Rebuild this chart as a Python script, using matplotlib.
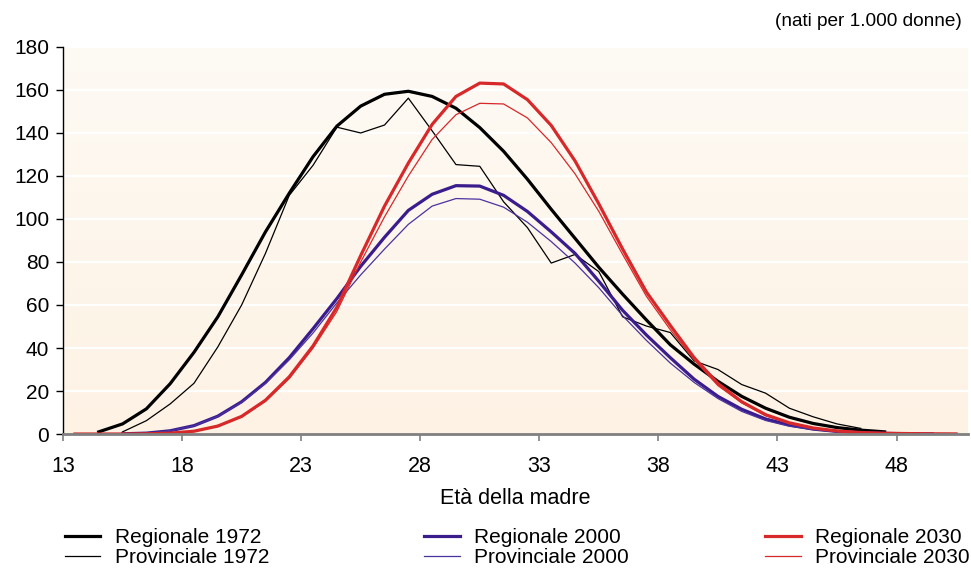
import numpy as np
import matplotlib
matplotlib.use("Agg")
import matplotlib.pyplot as plt
from matplotlib.colors import LinearSegmentedColormap

plt.rcParams['font.family'] = ['Liberation Sans', 'DejaVu Sans']

nan = np.nan

# eta della madre (centro della classe annuale)
eta = [13.5, 14.5, 15.5, 16.5, 17.5, 18.5, 19.5, 20.5, 21.5, 22.5,
       23.5, 24.5, 25.5, 26.5, 27.5, 28.5, 29.5, 30.5, 31.5, 32.5,
       33.5, 34.5, 35.5, 36.5, 37.5, 38.5, 39.5, 40.5, 41.5, 42.5,
       43.5, 44.5, 45.5, 46.5, 47.5, 48.5, 49.5, 50.5]

reg_1972 = [nan, 1.0, 4.7, 11.7, 23.4, 38.0, 54.5, 74.0, 94.0, 112.0,
            129.0, 143.2, 152.5, 158.0, 159.4, 157.0, 151.5, 142.5, 131.5, 118.5,
            104.5, 91.0, 77.5, 65.0, 53.0, 41.5, 32.5, 24.5, 17.5, 12.0,
            7.8, 4.9, 3.0, 1.8, 1.0, nan, nan, nan]

prov_1972 = [nan, nan, 1.0, 6.2, 14.0, 23.6, 40.5, 60.0, 84.0, 111.0,
             125.0, 142.7, 140.0, 143.7, 156.2, 141.0, 125.3, 124.5, 108.0, 96.0,
             79.5, 83.5, 75.5, 54.5, 50.2, 47.2, 34.0, 30.0, 23.0, 19.0,
             12.0, 8.0, 4.7, 2.6, nan, nan, nan, nan]

reg_2000 = [nan, nan, 0.1, 0.4, 1.5, 3.9, 8.3, 15.0, 24.0, 35.5,
            49.0, 63.0, 78.0, 91.5, 104.0, 111.5, 115.5, 115.3, 111.0, 103.5,
            94.0, 84.0, 71.0, 57.5, 46.0, 35.5, 25.5, 17.5, 11.5, 7.0,
            4.2, 2.3, 1.2, 0.6, 0.3, 0.1, 0.05, nan]

prov_2000 = [nan, nan, 0.1, 0.4, 1.5, 3.8, 8.2, 14.7, 23.5, 34.5,
             47.0, 61.0, 74.0, 86.0, 97.5, 106.0, 109.5, 109.2, 105.5, 98.5,
             89.5, 79.5, 68.0, 55.0, 43.5, 33.0, 24.0, 16.5, 10.5, 6.3,
             3.6, 2.0, 1.0, 0.4, 0.2, 0.1, nan, nan]

reg_2030 = [0.0, 0.0, 0.0, 0.1, 0.4, 1.3, 3.7, 8.2, 15.7, 26.6,
            41.0, 59.0, 83.0, 106.0, 126.0, 144.0, 157.0, 163.2, 162.8, 155.5,
            143.5, 127.0, 107.0, 86.0, 66.0, 50.5, 35.5, 23.5, 15.0, 9.0,
            5.2, 2.8, 1.4, 0.7, 0.35, 0.2, 0.1, 0.05]

prov_2030 = [0.0, 0.0, 0.0, 0.1, 0.4, 1.2, 3.5, 7.9, 15.2, 25.8,
             40.0, 57.0, 80.0, 101.0, 120.0, 137.0, 148.5, 153.8, 153.5, 147.0,
             135.5, 121.0, 103.5, 83.5, 64.0, 48.5, 34.5, 22.5, 14.5, 8.5,
             4.8, 2.5, 1.2, 0.6, 0.3, 0.15, 0.1, 0.05]

x_ticks = [13, 18, 23, 28, 33, 38, 43, 48]
y_ticks = [0, 20, 40, 60, 80, 100, 120, 140, 160, 180]

nero = '#000000'
viola = '#3b1c8c'
viola_chiaro = '#4a32a0'
rosso = '#d7282a'

fig = plt.figure(figsize=(9.71, 5.68), dpi=100)
ax = fig.add_axes([0.0649, 0.2359, 0.9320, 0.6814])

# sfondo sfumato dell'area del grafico
cmap = LinearSegmentedColormap.from_list('sfondo', ['#fdf2e4', '#fefaf4'])
grad = np.linspace(0, 1, 256).reshape(-1, 1)
ax.imshow(grad, cmap=cmap, origin='lower', aspect='auto',
          extent=[13, 51, 0, 180], zorder=0)

for y in y_ticks[1:]:
    ax.axhline(y, color='white', lw=1.6, zorder=1)

serie = [
    (reg_1972, nero, 2.3, 'Regionale 1972'),
    (prov_1972, nero, 0.9, 'Provinciale 1972'),
    (reg_2000, viola, 2.3, 'Regionale 2000'),
    (prov_2000, viola_chiaro, 0.9, 'Provinciale 2000'),
    (reg_2030, rosso, 2.3, 'Regionale 2030'),
    (prov_2030, rosso, 0.9, 'Provinciale 2030'),
]
linee = []
for valori, colore, spessore, nome in serie:
    l, = ax.plot(eta, valori, color=colore, lw=spessore, zorder=3, label=nome)
    linee.append(l)

ax.set_xlim(13, 51)
ax.set_ylim(0, 180)
ax.set_xticks(x_ticks)
ax.set_yticks(y_ticks)
ax.tick_params(axis='y', direction='out', length=5, width=1, pad=5, labelsize=15)
ax.tick_params(axis='x', direction='out', length=5, width=1.2, color='#808080',
               pad=11, labelsize=15.5)
for s in ['top', 'right']:
    ax.spines[s].set_visible(False)
ax.spines['left'].set_color('black')
ax.spines['left'].set_linewidth(1)
ax.spines['bottom'].set_color('#808080')
ax.spines['bottom'].set_linewidth(2)
ax.spines['bottom'].set_zorder(4)

ax.set_xlabel('Età della madre', fontsize=15.5, labelpad=8)
fig.text(0.99, 0.963, '(nati per 1.000 donne)', ha='right', va='center', fontsize=13.7)

# legenda su tre colonne
pos_x = [0.067, 0.437, 0.788]
for i in range(3):
    coppia = linee[2 * i:2 * i + 2]
    fig.legend(coppia, [l.get_label() for l in coppia],
               loc='upper left', bbox_to_anchor=(pos_x[i], 0.07), frameon=False,
               fontsize=15, handlelength=1.7, handletextpad=0.7,
               labelspacing=0.05, borderpad=0, borderaxespad=0)

fig.savefig('out.png', dpi=100)
